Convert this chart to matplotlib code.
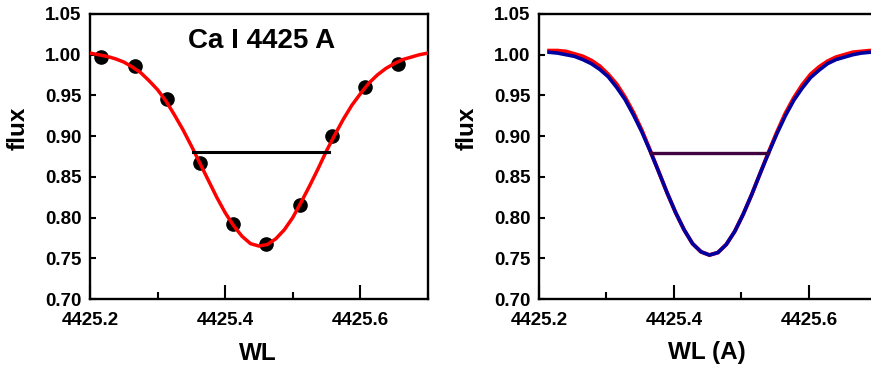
import numpy as np
import matplotlib
matplotlib.use("Agg")
import matplotlib.pyplot as plt
from matplotlib.ticker import MultipleLocator, FormatStrFormatter

plt.rcParams['font.family'] = ['Liberation Sans', 'DejaVu Sans']
plt.rcParams['font.weight'] = 'bold'

# left panel: observed points and fit
obs_wl = [4425.217, 4425.266, 4425.314, 4425.363, 4425.412,
          4425.460, 4425.510, 4425.558, 4425.607, 4425.656]
obs_flux = [0.997, 0.986, 0.946, 0.867, 0.792,
            0.768, 0.816, 0.900, 0.960, 0.989]

fit_wl = [4425.2000, 4425.2125, 4425.2250, 4425.2375, 4425.2500, 4425.2625,
          4425.2750, 4425.2875, 4425.3000, 4425.3125, 4425.3250, 4425.3375,
          4425.3500, 4425.3625, 4425.3750, 4425.3875, 4425.4000, 4425.4125,
          4425.4250, 4425.4375, 4425.4500, 4425.4625, 4425.4750, 4425.4875,
          4425.5000, 4425.5125, 4425.5250, 4425.5375, 4425.5500, 4425.5625,
          4425.5750, 4425.5875, 4425.6000, 4425.6125, 4425.6250, 4425.6375,
          4425.6500, 4425.6625, 4425.6750, 4425.6875, 4425.7000]
fit_flux = [1.002, 1.000, 0.998, 0.995, 0.991, 0.985,
            0.978, 0.968, 0.957, 0.943, 0.926, 0.908,
            0.888, 0.867, 0.846, 0.825, 0.806, 0.790,
            0.777, 0.768, 0.765, 0.767, 0.774, 0.785,
            0.800, 0.819, 0.839, 0.860, 0.882, 0.902,
            0.921, 0.938, 0.952, 0.965, 0.975, 0.983,
            0.989, 0.994, 0.997, 1.000, 1.002]

half_left_wl = [4425.353, 4425.553]
half_left_flux = [0.881, 0.881]

# right panel: two model profiles
mod_wl = [4425.2150, 4425.2275, 4425.2400, 4425.2525, 4425.2650, 4425.2775,
          4425.2900, 4425.3025, 4425.3150, 4425.3275, 4425.3400, 4425.3525,
          4425.3650, 4425.3775, 4425.3900, 4425.4025, 4425.4150, 4425.4275,
          4425.4400, 4425.4525, 4425.4650, 4425.4775, 4425.4900, 4425.5025,
          4425.5150, 4425.5275, 4425.5400, 4425.5525, 4425.5650, 4425.5775,
          4425.5900, 4425.6025, 4425.6150, 4425.6275, 4425.6400, 4425.6525,
          4425.6650, 4425.6775, 4425.6900, 4425.7025, 4425.7150]
blue_flux = [1.003, 1.002, 1.000, 0.998, 0.994, 0.989,
             0.982, 0.973, 0.960, 0.945, 0.926, 0.905,
             0.881, 0.856, 0.830, 0.806, 0.785, 0.768,
             0.758, 0.754, 0.757, 0.767, 0.783, 0.804,
             0.828, 0.854, 0.879, 0.903, 0.925, 0.944,
             0.959, 0.972, 0.981, 0.989, 0.994, 0.997,
             1.000, 1.002, 1.003, 1.003, 1.004]
red_flux = [1.005, 1.005, 1.004, 1.001, 0.998, 0.993,
            0.986, 0.976, 0.964, 0.948, 0.929, 0.907,
            0.882, 0.856, 0.830, 0.806, 0.785, 0.768,
            0.758, 0.754, 0.757, 0.767, 0.783, 0.804,
            0.828, 0.854, 0.880, 0.905, 0.928, 0.947,
            0.963, 0.976, 0.985, 0.992, 0.997, 1.000,
            1.003, 1.004, 1.005, 1.005, 1.005]

half_right_wl = [4425.366, 4425.540]
half_right_flux = [0.879, 0.879]

fig = plt.figure(figsize=(8.71, 3.74), dpi=100)
ax1 = fig.add_axes([0.1033, 0.2005, 0.388, 0.7621])
ax2 = fig.add_axes([0.6188, 0.2005, 0.3875, 0.7621])

for ax in (ax1, ax2):
    ax.set_xlim(4425.2, 4425.7)
    ax.set_ylim(0.70, 1.05)
    ax.xaxis.set_major_locator(MultipleLocator(0.2))
    ax.xaxis.set_minor_locator(MultipleLocator(0.1))
    ax.yaxis.set_major_locator(MultipleLocator(0.05))
    ax.yaxis.set_major_formatter(FormatStrFormatter('%.2f'))
    ax.xaxis.set_major_formatter(FormatStrFormatter('%.1f'))
    ax.tick_params(axis='x', which='major', direction='in', length=10, width=1.5,
                   pad=9, labelsize=13.5)
    ax.tick_params(axis='x', which='minor', direction='in', length=5, width=1.5)
    ax.tick_params(axis='y', which='major', direction='in', length=4.5, width=1.5,
                   pad=6, labelsize=13.5)
    for s in ax.spines.values():
        s.set_linewidth(1.7)
    for lab in ax.get_xticklabels() + ax.get_yticklabels():
        lab.set_fontweight('bold')

ax1.plot(fit_wl, fit_flux, color='red', lw=2.5, zorder=3)
ax1.plot(obs_wl, obs_flux, 'o', color='black', markersize=9.5, zorder=2)
ax1.plot(half_left_wl, half_left_flux, color='black', lw=2.2, zorder=4)
ax1.text(0.509, 0.905, 'Ca I 4425 A', transform=ax1.transAxes, ha='center',
         va='center', fontsize=20, fontweight='bold')

ax2.plot(mod_wl, red_flux, color='red', lw=2.8, zorder=2)
ax2.plot(mod_wl, blue_flux, color='#0000a0', lw=2.6, zorder=3)
ax2.plot(half_right_wl, half_right_flux, color='#400040', lw=2.4, zorder=4)

fig.text(258 / 871, 1 - 353 / 374, 'WL', ha='center', va='center',
         fontsize=17.5, fontweight='bold')
fig.text(706.7 / 871, 1 - 353 / 374, 'WL (A)', ha='center', va='center',
         fontsize=17.5, fontweight='bold')
fig.text(18 / 871, 1 - 128 / 374, 'flux', ha='center', va='center',
         rotation=90, fontsize=17.5, fontweight='bold')
fig.text(466.7 / 871, 1 - 128 / 374, 'flux', ha='center', va='center',
         rotation=90, fontsize=17.5, fontweight='bold')

fig.savefig('out.png', dpi=100)
